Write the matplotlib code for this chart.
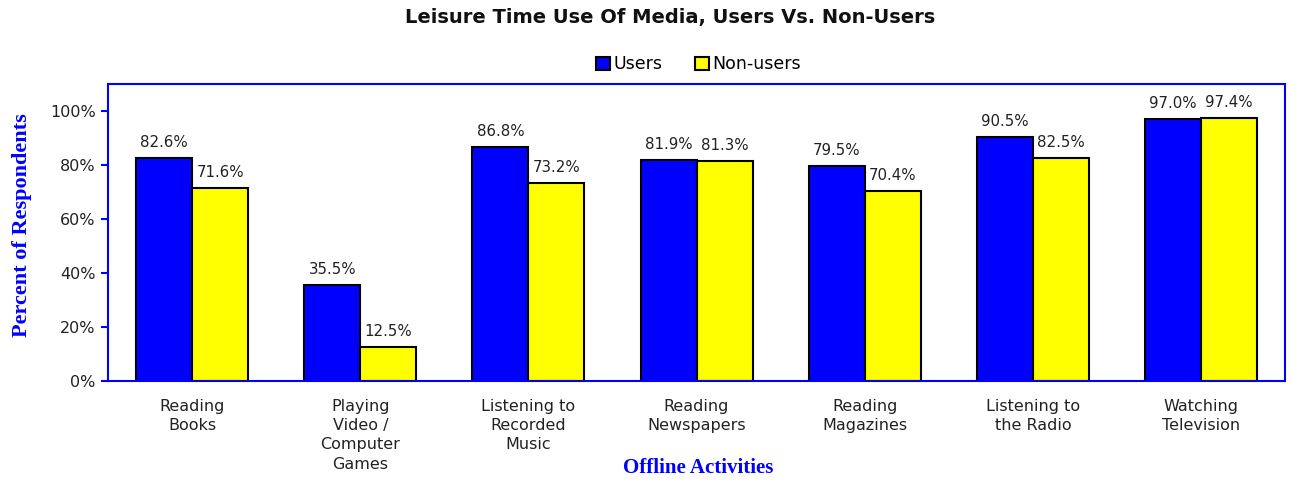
import matplotlib
matplotlib.use("Agg")
import matplotlib.pyplot as plt
import numpy as np
from matplotlib.ticker import FuncFormatter

plt.rcParams['font.family'] = ['DejaVu Sans']

categories = ["Reading\nBooks", "Playing\nVideo /\nComputer\nGames", "Listening to\nRecorded\nMusic",
              "Reading\nNewspapers", "Reading\nMagazines", "Listening to\nthe Radio", "Watching\nTelevision"]
users = [82.6, 35.5, 86.8, 81.9, 79.5, 90.5, 97.0]
non_users = [71.6, 12.5, 73.2, 81.3, 70.4, 82.5, 97.4]
series_names = ["Users", "Non-users"]

fig = plt.figure(figsize=(12.91, 4.83), dpi=100)
ax = fig.add_axes([0.0837, 0.2112, 0.9117, 0.6149])

x = np.arange(len(categories))
w = 1/3
b1 = ax.bar(x - w/2, users, w, color="#0000ff", edgecolor="black", linewidth=1.5, label=series_names[0])
b2 = ax.bar(x + w/2, non_users, w, color="#ffff00", edgecolor="black", linewidth=1.5, label=series_names[1])

for bars, vals in ((b1, users), (b2, non_users)):
    for r, v in zip(bars, vals):
        ax.text(r.get_x() + r.get_width()/2, v + 3.0, f"{v:.1f}%", ha="center", va="bottom",
                fontsize=10.8, color="#222222")

ax.set_xlim(-0.5, len(categories) - 0.5)
ax.set_ylim(0, 110)
ax.set_yticks(np.arange(0, 101, 20))
ax.yaxis.set_major_formatter(FuncFormatter(lambda v, p: f"{int(v)}%"))
ax.set_xticks(x)
ax.set_xticklabels(categories, fontsize=11.5, color="#222222", linespacing=1.35)
ax.tick_params(axis="x", length=0, pad=13)
ax.tick_params(axis="y", length=5, width=1.5, color="#0000ff", labelsize=11.5, labelcolor="#222222", pad=4)
for s in ax.spines.values():
    s.set_color("#0000ff")
    s.set_linewidth(1.5)

fig.text(22/1291, 1 - 225/483, "Percent of Respondents", family="Liberation Serif", fontweight="bold",
         fontsize=16, color="#0000ff", rotation=90, ha="center", va="center")
fig.text(698/1291, 1 - 468/483, "Offline Activities", family="Liberation Serif", fontweight="bold",
         fontsize=15, color="#0000ff", ha="center", va="center")

fig.text(670/1291, 1 - 18/483, "Leisure Time Use Of Media, Users Vs. Non-Users", fontweight="bold",
         fontsize=14, ha="center", va="center", color="#111111")
leg = fig.legend(loc="center", bbox_to_anchor=(0.541, 0.867), ncol=2, frameon=False, fontsize=12.5,
                 handlelength=0.8, handleheight=0.8, handletextpad=0.2, columnspacing=1.9)

fig.savefig("out.png", dpi=100)
